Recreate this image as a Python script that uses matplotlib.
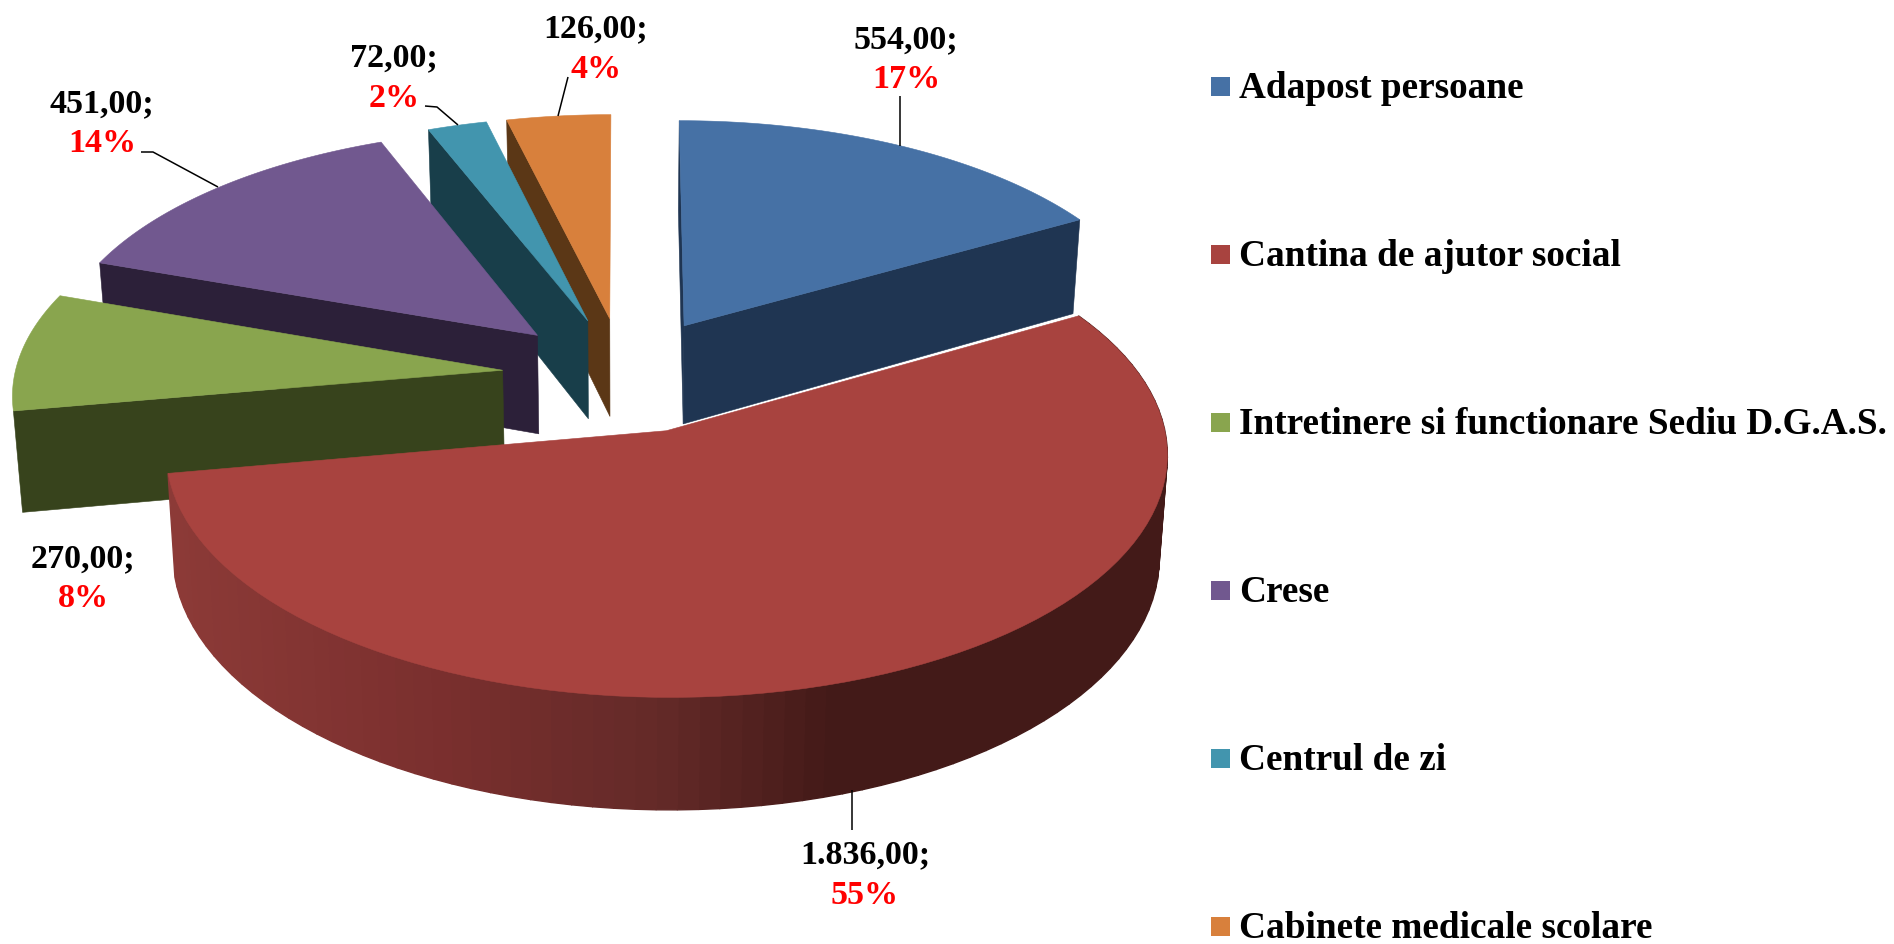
import matplotlib
matplotlib.use("Agg")
import matplotlib.pyplot as plt
import numpy as np

categories = ["Adapost persoane", "Cantina de ajutor social",
              "Intretinere si functionare Sediu D.G.A.S.", "Crese",
              "Centrul de zi", "Cabinete medicale scolare"]
values = [554, 1836, 270, 451, 72, 126]

topColors = ["#4671A5", "#A8433F", "#89A54E", "#71588F", "#4295AE", "#D8803C"]
wallColors = ["#1F3552", "#431A18", "#37431C", "#2C2039", "#183E4A", "#5B3716"]

# label anchor (x, baseline of value, baseline of percent), same order as values
labelX = [906, 865, 83, 102, 394, 596]
valueY = [48, 863, 567, 112, 66, 37]
percentY = [88, 904, 607, 152, 107, 78]

# leader lines, none for the green slice
leaders = [[(900, 96), (900, 146)],
           [(852, 790), (852, 830)],
           None,
           [(141, 152), (153, 152), (218, 187)],
           [(425, 106), (437, 107), (458, 125)],
           [(568, 77), (558, 116)]]

# projection of the pie, fitted on the picture
centerX = 624
centerY = 375
scaleX = 488
scaleY = 232
perspective = 0.09
explode = 0.25
depth = 100
shrink = 0.985

legendY = [86.5, 254.5, 422.5, 590.5, 758.5, 926.5]


def project(u, v):
    w = 1 - perspective * v
    return centerX + scaleX * u / w, centerY + scaleY * v / w, w


def top_point(u, v):
    x, y, w = project(u, v)
    return x, y


def bottom_point(u, v):
    x, y, w = project(u, v)
    return centerX + (x - centerX) * shrink, y + depth / w


def rim_color(x):
    # gradient on the side of the big slice
    stops = [174, 440, 661, 830]
    r = np.interp(x, stops, [0x8C, 0x7A, 0x63, 0x43])
    g = np.interp(x, stops, [0x3A, 0x2F, 0x2A, 0x1A])
    b = np.interp(x, stops, [0x37, 0x2E, 0x28, 0x18])
    return (r / 255, g / 255, b / 255)


fig = plt.figure(figsize=(18.94, 9.44), dpi=100)
ax = fig.add_axes([0, 0, 1, 1])
ax.set_xlim(0, 1894)
ax.set_ylim(944, 0)
ax.axis("off")

total = sum(values)
angles = np.cumsum([0] + values) / total * 2 * np.pi

# back slices first, the big one goes last
for i in [5, 4, 3, 2, 0, 1]:
    a0, a1 = angles[i], angles[i + 1]
    mid = (a0 + a1) / 2
    u0 = explode * np.sin(mid)
    v0 = -explode * np.cos(mid)
    th = np.linspace(a0, a1, 90)
    us = u0 + np.sin(th)
    vs = v0 - np.cos(th)

    apexT = top_point(u0, v0)
    apexB = bottom_point(u0, v0)
    startT = top_point(us[0], vs[0])
    startB = bottom_point(us[0], vs[0])
    endT = top_point(us[-1], vs[-1])
    endB = bottom_point(us[-1], vs[-1])

    # only the faces that look at us
    if i != 1:
        ax.fill(*zip(apexT, startT, startB, apexB), color=wallColors[i], lw=0.4)
    if i == 0:
        ax.fill(*zip(apexT, endT, endB, apexB), color=wallColors[i], lw=0.4)
    if i == 1:
        for k in range(len(th) - 1):
            p1 = top_point(us[k], vs[k])
            p2 = top_point(us[k + 1], vs[k + 1])
            p3 = bottom_point(us[k + 1], vs[k + 1])
            p4 = bottom_point(us[k], vs[k])
            ax.fill(*zip(p1, p2, p3, p4), color=rim_color((p1[0] + p2[0]) / 2), lw=1.0)

    arc = [top_point(u, v) for u, v in zip(us, vs)]
    ax.fill(*zip(apexT, *arc), color=topColors[i], lw=0.4)

for i in range(len(values)):
    txt = f"{values[i]:,.2f}".replace(",", "#").replace(".", ",").replace("#", ".") + ";"
    pct = str(round(100 * values[i] / total)) + "%"
    ax.text(labelX[i], valueY[i], txt, family="Liberation Serif", weight="bold",
            fontsize=24.5, color="black", ha="center", va="baseline")
    ax.text(labelX[i], percentY[i], pct, family="Liberation Serif", weight="bold",
            fontsize=24.5, color="#FF0000", ha="center", va="baseline")
    if leaders[i] is not None:
        ax.plot(*zip(*leaders[i]), color="black", lw=1.1, solid_capstyle="butt")

for i in range(len(categories)):
    ax.fill([1211, 1230, 1230, 1211],
            [legendY[i] - 9.5, legendY[i] - 9.5, legendY[i] + 9.5, legendY[i] + 9.5],
            color=topColors[i], lw=0)
    ax.text(1239, legendY[i] + 11, categories[i], family="Liberation Serif", weight="bold",
            fontsize=26.8, color="black", ha="left", va="baseline")

fig.savefig("out.png", dpi=100, facecolor="white")
